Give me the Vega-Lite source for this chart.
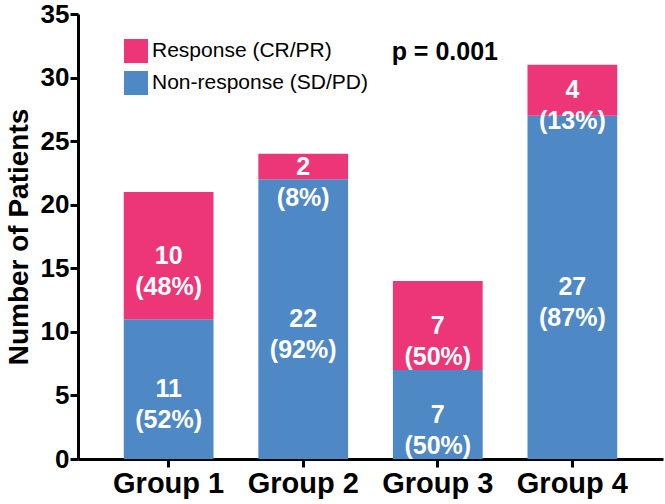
{
  "$schema": "https://vega.github.io/schema/vega-lite/v6.json",
  "width": 585,
  "height": 445,
  "autosize": {"type": "none"},
  "padding": {"left": 78, "top": 14, "right": 2, "bottom": 45},
  "background": "white",
  "config": {
    "view": {"stroke": null},
    "font": "Liberation Sans",
    "axis": {
      "domainColor": "black",
      "domainWidth": 3,
      "tickColor": "black",
      "tickWidth": 3,
      "tickSize": 8,
      "labelColor": "black",
      "labelFont": "Liberation Sans",
      "labelFontWeight": "bold",
      "titleColor": "black",
      "titleFont": "Liberation Sans",
      "titleFontWeight": "bold",
      "grid": false
    }
  },
  "data": {
    "values": [
      {"group": "Group 1", "status": "Non-response (SD/PD)", "n": 11, "stackOrder": 1, "label": ["11", "(52%)"]},
      {"group": "Group 1", "status": "Response (CR/PR)", "n": 10, "stackOrder": 2, "label": ["10", "(48%)"]},
      {"group": "Group 2", "status": "Non-response (SD/PD)", "n": 22, "stackOrder": 1, "label": ["22", "(92%)"]},
      {"group": "Group 2", "status": "Response (CR/PR)", "n": 2, "stackOrder": 2, "label": ["2", "(8%)"]},
      {"group": "Group 3", "status": "Non-response (SD/PD)", "n": 7, "stackOrder": 1, "label": ["7", "(50%)"]},
      {"group": "Group 3", "status": "Response (CR/PR)", "n": 7, "stackOrder": 2, "label": ["7", "(50%)"]},
      {"group": "Group 4", "status": "Non-response (SD/PD)", "n": 27, "stackOrder": 1, "label": ["27", "(87%)"]},
      {"group": "Group 4", "status": "Response (CR/PR)", "n": 4, "stackOrder": 2, "label": ["4", "(13%)"]}
    ]
  },
  "layer": [
    {
      "transform": [
        {"stack": "n", "groupby": ["group"], "sort": [{"field": "stackOrder", "order": "ascending"}], "as": ["y0", "y1"]}
      ],
      "mark": {"type": "bar", "strokeWidth": 0},
      "encoding": {
        "x": {
          "field": "group",
          "type": "nominal",
          "title": null,
          "scale": {"paddingInner": 0.333, "paddingOuter": 0.34},
          "axis": {"labelAngle": 0, "labelFontSize": 29, "labelPadding": 2}
        },
        "y": {
          "field": "y0",
          "type": "quantitative",
          "title": "Number of Patients",
          "scale": {"domain": [0, 35], "nice": false},
          "axis": {"values": [0, 5, 10, 15, 20, 25, 30, 35], "labelFontSize": 26, "labelPadding": 1, "titleFontSize": 28, "titlePadding": 7}
        },
        "y2": {"field": "y1"},
        "color": {
          "field": "status",
          "type": "nominal",
          "scale": {"domain": ["Response (CR/PR)", "Non-response (SD/PD)"], "range": ["#EC3677", "#4F89C5"]},
          "legend": {
            "title": null,
            "orient": "none",
            "legendX": 46,
            "legendY": 25,
            "padding": 0,
            "symbolType": "square",
            "symbolSize": 576,
            "symbolStrokeWidth": 0,
            "symbolOpacity": 1,
            "labelFontSize": 21,
            "labelFont": "Liberation Sans",
            "labelColor": "black",
            "labelLimit": 0,
            "labelOffset": 4,
            "rowPadding": 8
          }
        }
      }
    },
    {
      "transform": [
        {"stack": "n", "groupby": ["group"], "sort": [{"field": "stackOrder", "order": "ascending"}], "as": ["y0", "y1"]},
        {"calculate": "(datum.y0 + datum.y1) / 2", "as": "mid"}
      ],
      "mark": {"type": "text", "color": "white", "fontWeight": "bold", "fontSize": 25, "lineHeight": 31, "baseline": "middle", "font": "Liberation Sans"},
      "encoding": {
        "x": {"field": "group", "type": "nominal"},
        "y": {"field": "mid", "type": "quantitative"},
        "text": {"field": "label"}
      }
    },
    {
      "data": {"values": [{"group": "Group 3", "yv": 32, "txt": "p = 0.001"}]},
      "mark": {"type": "text", "color": "black", "fontWeight": "bold", "fontSize": 25, "baseline": "middle", "dx": 7, "font": "Liberation Sans"},
      "encoding": {
        "x": {"field": "group", "type": "nominal"},
        "y": {"field": "yv", "type": "quantitative"},
        "text": {"field": "txt"}
      }
    }
  ]
}
